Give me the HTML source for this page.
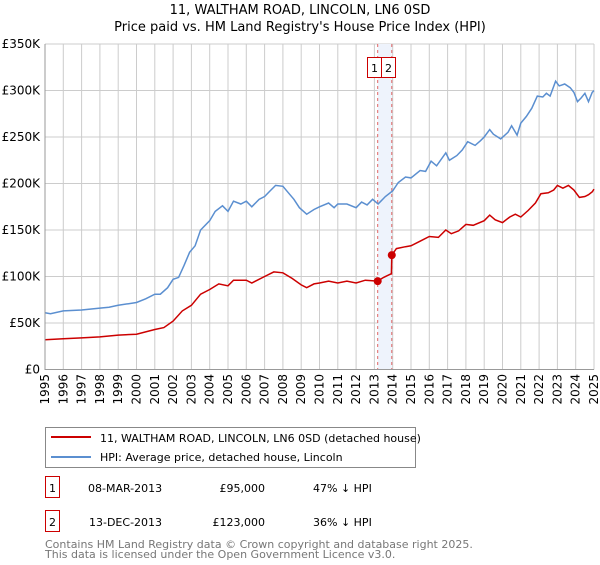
<!DOCTYPE html>
<html><head><meta charset="utf-8"><style>
body{margin:0;background:#fff;font-family:"Liberation Sans","DejaVu Sans",sans-serif;}
svg text{font-family:"DejaVu Sans","Liberation Sans",sans-serif;}
</style></head><body>
<svg id="chart" width="600" height="560">
<text x="300" y="14" font-size="13" text-anchor="middle">11, WALTHAM ROAD, LINCOLN, LN6 0SD</text>
<text x="300" y="31" font-size="13" text-anchor="middle">Price paid vs. HM Land Registry's House Price Index (HPI)</text>
<g id="grid"></g><g id="band"></g><g id="series"></g><g id="axes"></g>
<g>
<rect x="45.5" y="427.5" width="370" height="40" fill="#fff" stroke="#888"/>
<line x1="51" y1="437" x2="91" y2="437" stroke="#cc0000" stroke-width="2"/>
<text x="100" y="442" font-size="11">11, WALTHAM ROAD, LINCOLN, LN6 0SD (detached house)</text>
<line x1="51" y1="457" x2="91" y2="457" stroke="#5b8fd0" stroke-width="2"/>
<text x="100" y="461" font-size="11">HPI: Average price, detached house, Lincoln</text>
</g>
<g font-size="11">
<rect x="45.5" y="476.5" width="14" height="21" fill="#fff" stroke="#cc0000"/>
<text x="52.5" y="492" text-anchor="middle">1</text>
<text x="88" y="492">08-MAR-2013</text><text x="265" y="492" text-anchor="end">£95,000</text><text x="313" y="492">47% ↓ HPI</text>
<rect x="45.5" y="510.5" width="14" height="21" fill="#fff" stroke="#cc0000"/>
<text x="52.5" y="526" text-anchor="middle">2</text>
<text x="89" y="526">13-DEC-2013</text><text x="265" y="526" text-anchor="end">£123,000</text><text x="313" y="526">36% ↓ HPI</text>
</g>
<text x="45" y="548" font-size="11" fill="#777">Contains HM Land Registry data © Crown copyright and database right 2025.</text>
<text x="45" y="558" font-size="11" fill="#777">This data is licensed under the Open Government Licence v3.0.</text>
</svg>
<script>
const yTicks=[0,50,100,150,200,250,300,350];
const yTickLabels=["£0","£50K","£100K","£150K","£200K","£250K","£300K","£350K"];
const xYears=[1995,1996,1997,1998,1999,2000,2001,2002,2003,2004,2005,2006,2007,2008,2009,2010,2011,2012,2013,2014,2015,2016,2017,2018,2019,2020,2021,2022,2023,2024,2025];
const hpiT=[1995,1995.3,1996,1997,1998,1998.5,1999,2000,2000.5,2001,2001.3,2001.7,2002,2002.3,2002.6,2002.9,2003.2,2003.5,2004,2004.3,2004.7,2005,2005.3,2005.7,2006,2006.3,2006.7,2007,2007.3,2007.6,2008,2008.3,2008.6,2008.9,2009.3,2009.7,2010,2010.5,2010.8,2011,2011.5,2012,2012.3,2012.6,2012.9,2013.2,2013.6,2014,2014.3,2014.7,2015,2015.5,2015.8,2016.1,2016.4,2016.9,2017.1,2017.5,2017.8,2018.1,2018.5,2018.8,2019,2019.3,2019.5,2019.9,2020.3,2020.5,2020.8,2021,2021.3,2021.6,2021.9,2022.2,2022.4,2022.6,2022.9,2023.1,2023.4,2023.7,2023.9,2024.1,2024.3,2024.5,2024.7,2024.9,2025];
const hpiV=[61,60,63,64,66,67,69,72,76,81,81,88,97,99,112,126,133,150,160,170,176,170,181,178,181,175,183,186,192,198,197,190,183,174,167,172,175,179,174,178,178,174,180,177,183,178,186,192,201,207,206,214,213,224,219,233,225,230,236,245,241,246,250,258,253,248,255,262,252,265,272,281,294,293,297,294,310,305,307,303,298,288,292,297,288,298,300];
const ppT=[1995,1996,1997,1998,1999,2000,2001,2001.5,2002,2002.5,2003,2003.5,2004,2004.5,2005,2005.3,2006,2006.3,2007,2007.5,2008,2008.5,2009,2009.3,2009.7,2010,2010.5,2011,2011.5,2012,2012.5,2013.18,2013.5,2013.93,2013.95,2014.2,2014.7,2015,2015.5,2016,2016.5,2016.9,2017.2,2017.6,2018,2018.4,2019,2019.3,2019.6,2020,2020.4,2020.7,2021,2021.4,2021.8,2022.1,2022.5,2022.8,2023,2023.3,2023.6,2023.9,2024.2,2024.5,2024.7,2024.9,2025];
const ppV=[32,33,34,35,37,38,43,45,52,63,69,81,86,92,90,96,96,93,100,105,104,98,91,88,92,93,95,93,95,93,96,95,99,103,123,130,132,133,138,143,142,150,146,149,156,155,160,166,161,158,164,167,164,171,179,189,190,193,198,195,198,193,185,186,188,191,194];
const saleT=[2013.18,2013.95];
const saleV=[95,123];
const NS="http://www.w3.org/2000/svg";
const X=t=>45+(t-1995)*(594-45)/30;
const Y=v=>369.5-v*(369.5-44)/350;
function mk(tag,attrs,parent){const e=document.createElementNS(NS,tag);for(const k in attrs)e.setAttribute(k,attrs[k]);parent.appendChild(e);return e;}
const grid=document.getElementById('grid'),axes=document.getElementById('axes'),band=document.getElementById('band'),ser=document.getElementById('series');
yTicks.forEach((v,i)=>{
 const l=mk('line',{x1:45,x2:594,y1:Y(v),y2:Y(v),stroke:'#cccccc'},grid);
 
 
 const t=mk('text',{x:40,y:Y(v)+4,'font-size':12,'text-anchor':'end'},axes);
 t.textContent=yTickLabels[i];
 
 
});
xYears.forEach(yr=>{
 const l=mk('line',{x1:X(yr),x2:X(yr),y1:44,y2:369.5,stroke:'#cccccc'},grid);
 
 
 const t=mk('text',{x:0,y:0,'font-size':12,'text-anchor':'end',transform:`translate(${X(yr)+4},374) rotate(-90)`},axes);
 t.textContent=yr;
 
 
});
const b=mk('rect',{x:X(saleT[0]),y:44,width:X(saleT[1])-X(saleT[0]),height:325.5,fill:'#eef3fc'},band);


saleT.forEach((t,i)=>{
 const l=mk('line',{x1:X(t),x2:X(t),y1:44,y2:369.5,stroke:'#e06666','stroke-dasharray':'3,3'},band);
 
 
});
[[367,'1'],[381,'2']].forEach(([x,s])=>{
 const r=mk('rect',{x:x+0.5,y:57.5,width:14,height:20,fill:'#fff',stroke:'#cc0000'},band);
 
 
 const t=mk('text',{x:x+7.5,y:72,'font-size':11,'text-anchor':'middle'},band);
 t.textContent=s;
});
const path=(T,V)=>T.map((t,i)=>(i?'L':'M')+X(t).toFixed(1)+','+Y(V[i]).toFixed(1)).join('');
const h=mk('path',{d:path(hpiT,hpiV),fill:'none',stroke:'#5b8fd0','stroke-width':1.5},ser);


const p=mk('path',{d:path(ppT,ppV),fill:'none',stroke:'#cc0000','stroke-width':1.5},ser);


saleT.forEach((t,i)=>{
 const c=mk('circle',{cx:X(t),cy:Y(saleV[i]),r:4,fill:'#cc0000'},ser);
 
 
});
const ax=mk('path',{d:'M45,44V369.5H594',fill:'none',stroke:'#999'},axes);


</script>
</body></html>
